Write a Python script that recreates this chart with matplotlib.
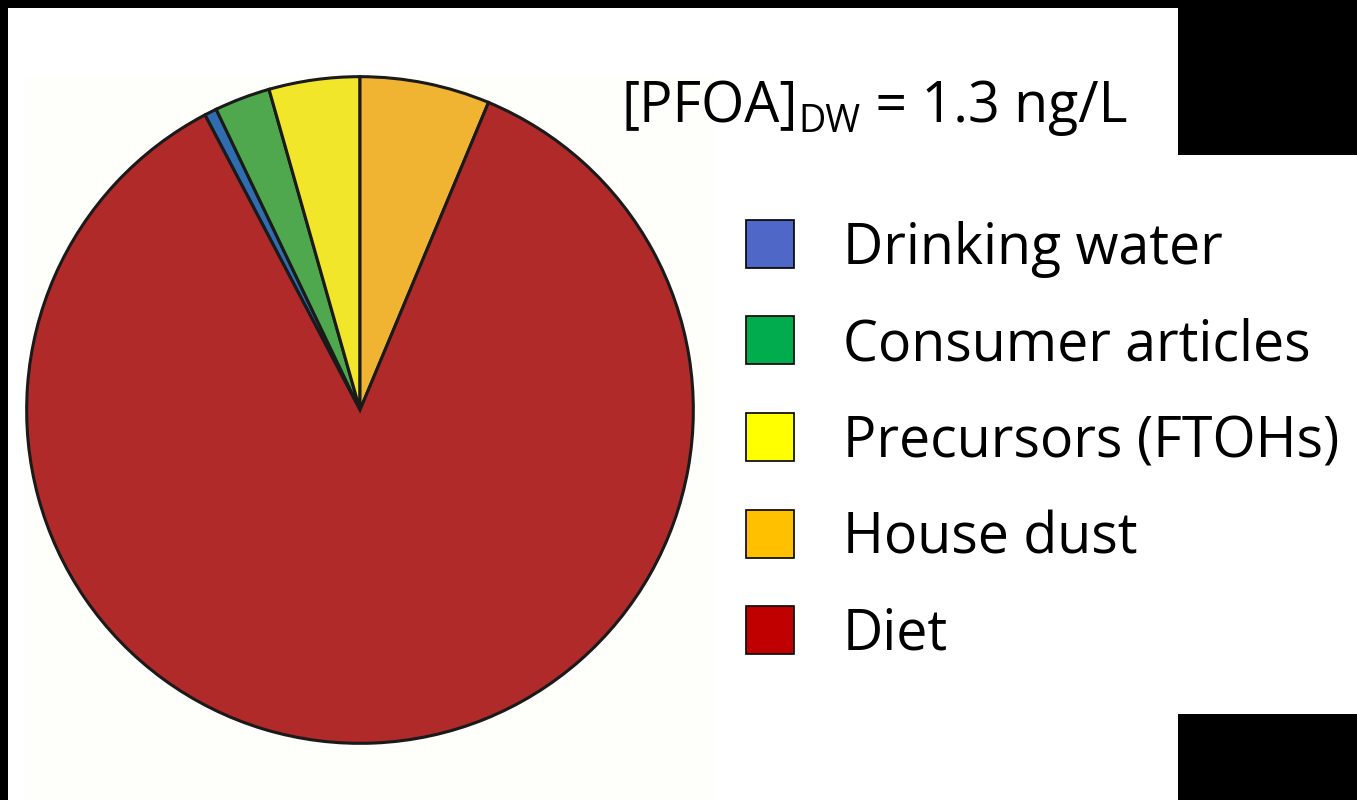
import matplotlib
matplotlib.use('Agg')
from matplotlib import pyplot as plt
from matplotlib.patches import Rectangle

# exposure shares (% of total PFOA intake), legend order
sources = ["Drinking water", "Consumer articles", "Precursors (FTOHs)", "House dust", "Diet"]
shares = [0.6, 2.7, 4.4, 6.3, 86.0]
pie_colors = ["#2F6CB0", "#50A84E", "#F2E62A", "#F0B432", "#B02A2A"]
legend_colors = ["#4F67C6", "#00AC4E", "#FFFF00", "#FFC000", "#C00000"]

W, H = 1357, 800
fig = plt.figure(figsize=(W / 100, H / 100), dpi=100, facecolor="black")

def px_rect(x0, y0, x1, y1, color):
    # rectangle given in pixel coords measured from top-left
    fig.add_artist(Rectangle((x0 / W, 1 - y1 / H), (x1 - x0) / W, (y1 - y0) / H,
                             transform=fig.transFigure, facecolor=color,
                             edgecolor="none", zorder=0))

# white slide areas around the black corners
px_rect(8, 8, 1178, 800, "white")
px_rect(1178, 155, 1357, 714, "white")
px_rect(25, 75, 715, 800, "#FEFEFB")

# pie, centre (360, 410) px, radius 335 px
cx, cy, r = 360, 410, 335
ax = fig.add_axes([(cx - r) / W, 1 - (cy + r) / H, 2 * r / W, 2 * r / H])
start = 90 + 360 * sum(shares[:3]) / sum(shares)
ax.pie(shares, colors=pie_colors, startangle=start, counterclock=False,
       wedgeprops=dict(edgecolor="#1a1a1a", linewidth=2.2))
ax.set_xlim(-1.005, 1.005)
ax.set_ylim(-1.005, 1.005)
ax.set_aspect("auto")
ax.axis("off")

font = "Open Sans"
fs = 40

# legend drawn by hand
for i, (lab, col) in enumerate(zip(sources, legend_colors)):
    ytop = 220 + i * 96.5
    px_rect(746, ytop, 794, ytop + 48, col)
    fig.add_artist(Rectangle((746 / W, 1 - (ytop + 48) / H), 48 / W, 48 / H,
                             transform=fig.transFigure, facecolor="none",
                             edgecolor="black", linewidth=1.2, zorder=1))
    fig.text(843 / W, 1 - (ytop + 44) / H, lab, fontsize=fs, family=font,
             ha="left", va="baseline", color="black")

# title with subscript, pieces placed one after the other
fig.canvas.draw()
rend = fig.canvas.get_renderer()
x = 622
parts = [("[PFOA]", fs, 122), ("DW", fs * 0.68, 132), (" = 1.3 ng/L", fs, 122)]
for s, size, base in parts:
    t = fig.text(x / W, 1 - base / H, s, fontsize=size, family=font,
                 ha="left", va="baseline", color="black")
    x += t.get_window_extent(rend).width

fig.savefig("out.png", dpi=100, facecolor=fig.get_facecolor())
